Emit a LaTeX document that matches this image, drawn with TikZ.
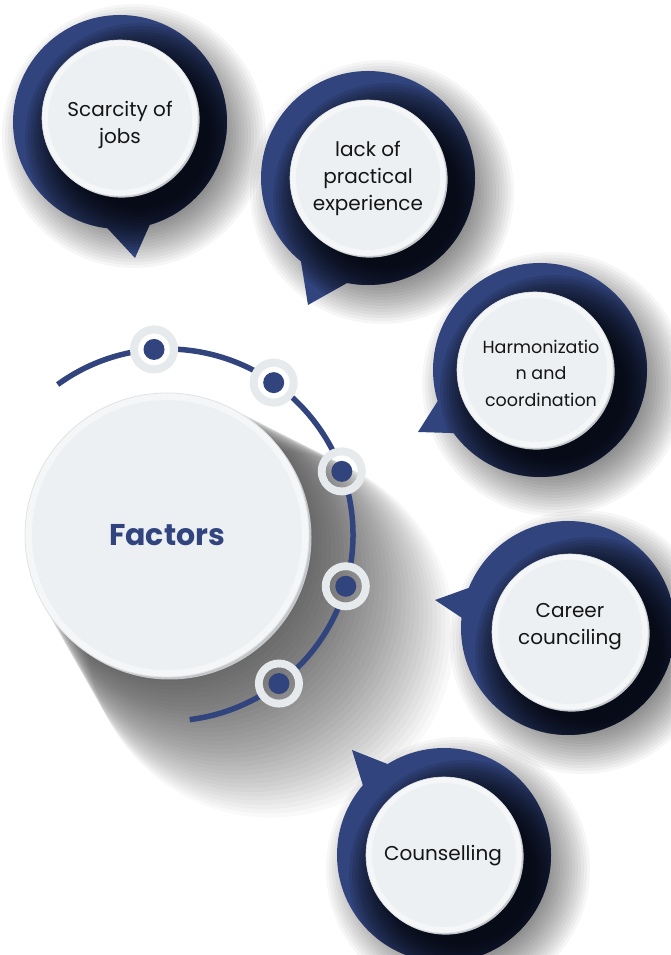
\documentclass[tikz,border=0pt]{standalone}
\usepackage{fontspec}
\setmainfont{Poppins}

\definecolor{navy}{HTML}{31447D}
\definecolor{pale}{HTML}{F5F6F7}
\definecolor{paleinner}{HTML}{EDF0F2}
\definecolor{rim}{HTML}{C4C7CA}
\definecolor{edge}{HTML}{E0E3E5}
\definecolor{ringgray}{HTML}{E6EAEC}
\definecolor{ink}{HTML}{151515}

\tikzset{
  ringdisc/.style={circle, minimum size=214pt, inner sep=0pt, outer sep=0pt, fill=navy},
  disc/.style={circle, minimum size=156pt, inner sep=0pt, outer sep=0pt, fill=pale,
    draw=edge, line width=0.6pt,
    path picture={\fill[paleinner] (path picture bounding box.center) circle (72pt);}},
  label/.style={text=ink, align=center, inner sep=0pt, font=\fontsize{20}{27}\selectfont},
  small label/.style={label, font=\fontsize{17.5}{26.5}\selectfont},
  hub/.style={circle, minimum size=284pt, inner sep=0pt, fill=pale, draw=edge, line width=0.8pt,
    text=navy, font=\fontsize{30}{34}\selectfont\bfseries,
    path picture={\fill[paleinner] (path picture bounding box.center) circle (135pt);}},
  ring/.style={circle, minimum size=40pt, inner sep=0pt, outer sep=0pt, fill=white,
    draw=ringgray, line width=8pt},
  dot/.style={circle, minimum size=21pt, inner sep=0pt, fill=navy},
  track/.style={draw=navy, line width=5.5pt},
  shade layer/.style={fill=black, opacity=#1}
}

% speech bubble: #1 name, #2 ring centre, #3 disc centre,
% #4 #5 tail base angles, #6 tail tip
\newcommand\speech[6]{%
  % drop shadow on the page
  \foreach \r in {84,87,...,134}
    \fill[shade layer=0.034] #2 ++(14,-14) circle (\r);
  \fill[navy] ([shift={#2}]#4:105) -- #6 -- ([shift={#2}]#5:105) -- cycle;
  \node[ringdisc] (#1-ring) at #2 {};
  % shadow of the disc on the ring
  \begin{scope}
    \clip #2 circle (107) ([shift={#2}]#4:105) -- #6 -- ([shift={#2}]#5:105) -- cycle;
    \foreach \r in {70,73,...,115}
      \fill[shade layer=0.09] #3 ++(20,-20) circle (\r);
  \end{scope}
  % grey rim on the lower right of the disc
  \fill[rim] #3 ++(1.6,-1.6) circle (78);
  \node[disc] (#1) at #3 {};
}

% long soft shadow of the hub
\newcommand\hubshadow{%
  \foreach \s in {0,3,...,99}
    \fill[shade layer=0.024] (167+1.05*\s,420-\s) circle (142+0.42*\s);
}

\begin{document}
\begin{tikzpicture}[x=1pt,y=1pt]
  \useasboundingbox (0,0) rectangle (670,955);
  \fill[white] (0,0) rectangle (670,955);

  % hub with its shadow and rim
  \hubshadow
  \fill[rim] (169.5,417.5) circle (142);
  \node[hub] (hub) at (167,420) {Factors};

  % track around the hub
  \draw[track] ([shift={(167,420)}]126:186) arc[start angle=126, end angle=-83, radius=186];

  % stations on the track
  \foreach \a [count=\i] in {94,55,20,-16,-53}
    \node[ring] (st\i) at ([shift={(167,420)}]\a:186) {};
  \begin{scope}
    \clip (st1) circle (16) (st2) circle (16) (st3) circle (16) (st4) circle (16) (st5) circle (16);
    \hubshadow
  \end{scope}
  \foreach \i in {1,...,5}
    \node[dot] (pt\i) at (st\i) {};

  % bubbles
  \speech{jobs}{(120,833)}{(120,837)}{-98}{-73}{(135,697)}
  \speech{exp}{(368,777)}{(368,777)}{-130}{-100}{(308,650)}
  \speech{harm}{(540,585)}{(535,585)}{196}{217}{(418,523)}
  \speech{career}{(568,327)}{(570,323)}{157}{175}{(435,355)}
  \speech{couns}{(444,100)}{(444,100)}{121}{140}{(352,205)}

  % bubble texts
  \node[label] (jobs-text) at (120,830) {Scarcity of\\jobs};
  \node[label] (exp-text) at (368,777) {lack of\\practical\\experience};
  \node[small label] (harm-text) at (541,582) {Harmonizatio\\n and\\coordination};
  \node[label] (career-text) at (570,328) {Career\\counciling};
  \node[label] (couns-text) at (443,99) {Counselling};
\end{tikzpicture}
\end{document}
